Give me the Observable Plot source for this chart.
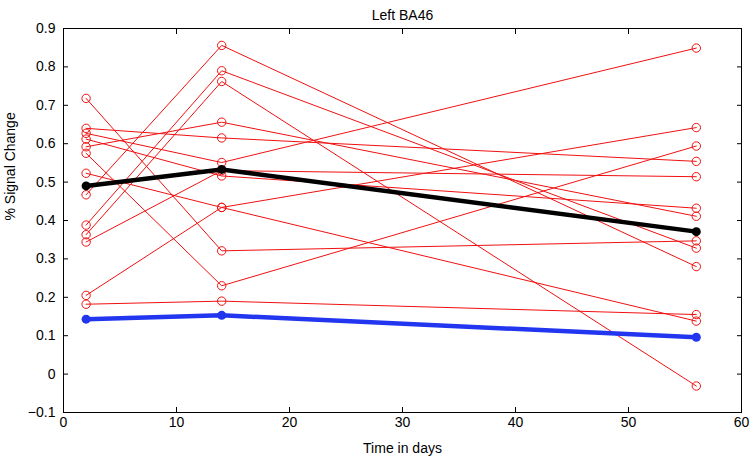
<!DOCTYPE html>
<html>
<head>
<meta charset="utf-8">
<script src="https://cdn.jsdelivr.net/npm/d3@7"></script>
<script src="https://cdn.jsdelivr.net/npm/@observablehq/plot@0.6"></script>
<style>
  html, body { margin: 0; padding: 0; background: #fff; }
  #chart svg { display: block; }
</style>
</head>
<body>
<div id="chart"></div>
<script>
// Time points (days)
const days = [2, 14, 56];
// Individual subjects: value at each time point (index = subject)
const day2  = [0.718, 0.640, 0.627, 0.612, 0.592, 0.575, 0.523, 0.467, 0.388, 0.363, 0.344, 0.205, 0.182];
const day14 = [0.321, 0.615, 0.551, 0.516, 0.656, 0.230, 0.434, 0.856, 0.790, 0.762, 0.530, 0.434, 0.190];
const day56 = [0.347, 0.554, 0.849, 0.432, 0.411, 0.594, 0.138, 0.280, 0.328, -0.031, 0.514, 0.642, 0.155];
// Group mean (black) and comparison line (blue)
const meanValues = [0.490, 0.533, 0.371];
const blueValues = [0.143, 0.153, 0.096];
// Axis ticks
const xTicks = [0, 10, 20, 30, 40, 50, 60];
const yTicks = [-0.1, 0, 0.1, 0.2, 0.3, 0.4, 0.5, 0.6, 0.7, 0.8, 0.9];

const title = "Left BA46";
const xLabel = "Time in days";
const yLabel = "% Signal Change";

const cols = [day2, day14, day56];
const subjects = [];
day2.forEach((_, s) => {
  days.forEach((d, j) => subjects.push({subject: s, day: d, value: cols[j][s]}));
});
const meanData = days.map((d, i) => ({day: d, value: meanValues[i]}));
const blueData = days.map((d, i) => ({day: d, value: blueValues[i]}));

const fmt = d => (d < 0 ? "\u2212" + Math.abs(d) : String(+d.toFixed(1)));
const red = "#f01010";
const blue = "#2236f0";

const chart = Plot.plot({
  width: 756,
  height: 464,
  marginLeft: 63,
  marginRight: 15,
  marginTop: 28,
  marginBottom: 52,
  style: {fontFamily: "'Liberation Sans', Arial, sans-serif", fontSize: "14px", color: "#000", background: "#fff"},
  x: {domain: [0, 60]},
  y: {domain: [-0.1, 0.9]},
  marks: [
    Plot.frame({stroke: "#000", strokeWidth: 1}),
    Plot.axisX(xTicks, {anchor: "bottom", tickSize: -5, tickPadding: 10, label: null, fontSize: 14}),
    Plot.axisX(xTicks, {anchor: "top", tickSize: -5, tickFormat: () => "", label: null}),
    Plot.axisY(yTicks, {anchor: "left", tickSize: -5, tickPadding: 13, tickFormat: fmt, label: null, fontSize: 14}),
    Plot.axisY(yTicks, {anchor: "right", tickSize: -5, tickFormat: () => "", label: null}),
    Plot.line(subjects, {x: "day", y: "value", z: "subject", stroke: red, strokeWidth: 1}),
    Plot.dot(subjects, {x: "day", y: "value", r: 4.2, stroke: red, strokeWidth: 1, fill: "none"}),
    Plot.line(meanData, {x: "day", y: "value", stroke: "#000", strokeWidth: 4.5}),
    Plot.dot(meanData, {x: "day", y: "value", r: 4.5, fill: "#000"}),
    Plot.line(blueData, {x: "day", y: "value", stroke: blue, strokeWidth: 4.5}),
    Plot.dot(blueData, {x: "day", y: "value", r: 4.5, fill: blue}),
    Plot.text([title], {frameAnchor: "top", dy: -18, fontSize: 14}),
    Plot.text([xLabel], {frameAnchor: "bottom", dy: 40, fontSize: 14}),
    Plot.text([yLabel], {frameAnchor: "left", dx: -53, rotate: -90, fontSize: 14})
  ]
});
document.getElementById("chart").appendChild(chart);
</script>
</body>
</html>
